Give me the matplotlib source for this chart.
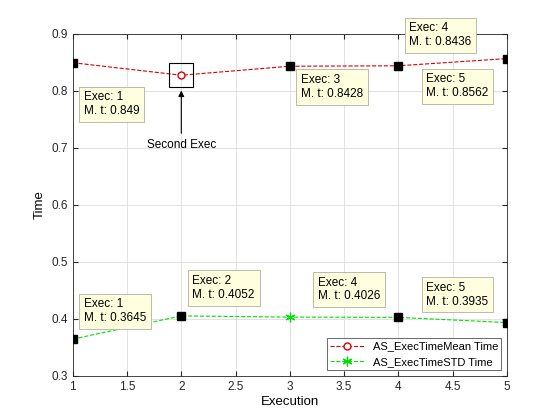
import matplotlib
matplotlib.use("Agg")
from matplotlib import pyplot as plt

execs = [1, 2, 3, 4, 5]
mean_time = [0.849, 0.827, 0.8428, 0.8436, 0.8562]
std_time = [0.3645, 0.4052, 0.4030, 0.4026, 0.3935]

plt.rcParams['font.family'] = ['Liberation Sans', 'DejaVu Sans']
fig = plt.figure(figsize=(5.6, 4.2), dpi=100)
ax = fig.add_axes([0.13, 0.105, 0.775, 0.815])

ax.plot(execs, mean_time, '--', color='#e00000', lw=0.8, marker='o', markevery=[1],
        mfc='white', mec='#e00000', ms=5, label='AS_ExecTimeMean Time')
ax.plot(execs, std_time, '--', color='#00e000', lw=0.8, marker=(6, 2, 0), markevery=[2],
        ms=7, mew=0.9, label='AS_ExecTimeSTD Time')

ax.set_xlim(1, 5)
ax.set_ylim(0.3, 0.9)
ax.set_xticks([1, 1.5, 2, 2.5, 3, 3.5, 4, 4.5, 5])
ax.set_xticklabels(['1', '1.5', '2', '2.5', '3', '3.5', '4', '4.5', '5'])
ax.set_yticks([0.3, 0.4, 0.5, 0.6, 0.7, 0.8, 0.9])
ax.grid(True, color='#dddddd', lw=0.6)
ax.tick_params(labelsize=8.5, direction='in', top=True, right=True, colors='#262626')
for s in ax.spines.values():
    s.set_color('#262626')
    s.set_linewidth(0.6)
ax.set_xlabel('Execution', fontsize=9.5, labelpad=2)
ax.set_ylabel('Time', fontsize=9.5)

box = dict(boxstyle='square,pad=0.4', fc='#ffffe0', ec='#b0b0a0', lw=0.6)

def tip(x, y, text, dx, dy):
    ax.plot([x], [y], 's', color='black', ms=6, zorder=5)
    ax.annotate(text, (x, y), xytext=(dx, dy), textcoords='offset points',
                fontsize=8.5, bbox=box, va='center', ha='left', zorder=6)

# datatips on mean curve
tip(1, mean_time[0], 'Exec: 1\nM. t: 0.849', 8, -30)
tip(3, mean_time[2], 'Exec: 3\nM. t: 0.8428', 8, -15)
tip(4, mean_time[3], 'Exec: 4\nM. t: 0.8436', 8, 22)
tip(5, mean_time[4], 'Exec: 5\nM. t: 0.8562', -58, -20)
# datatips on std curve
tip(1, std_time[0], 'Exec: 1\nM. t: 0.3645', 8, 20)
tip(2, std_time[1], 'Exec: 2\nM. t: 0.4052', 8, 20)
tip(4, std_time[3], 'Exec: 4\nM. t: 0.4026', -58, 20)
tip(5, std_time[4], 'Exec: 5\nM. t: 0.3935', -58, 20)

# highlighted second execution
ax.plot([2], [mean_time[1]], 's', mfc='none', mec='black', ms=17, mew=0.8)
ax.annotate('Second Exec', xy=(2, 0.805), xytext=(2, 0.705), fontsize=8.5,
            ha='center', va='center',
            arrowprops=dict(arrowstyle='-|>', color='black', lw=0.8))

leg = ax.legend(loc='lower right', fontsize=8, frameon=True, fancybox=False,
                edgecolor='#262626', borderpad=0.3, handlelength=3)
leg.get_frame().set_linewidth(0.6)

fig.savefig('out.png')
